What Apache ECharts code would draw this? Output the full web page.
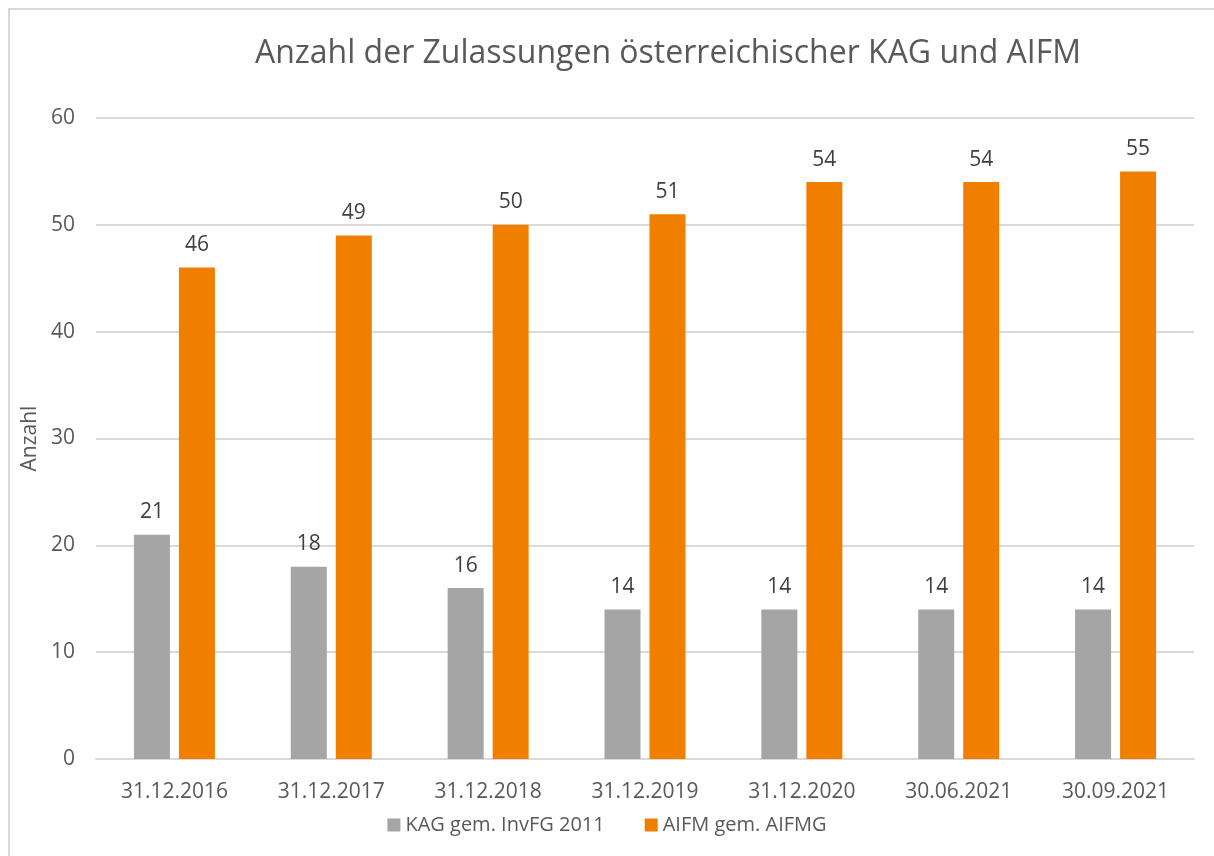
<!DOCTYPE html>
<html>
<head>
<meta charset="utf-8">
<script src="https://cdn.jsdelivr.net/npm/echarts@6/dist/echarts.min.js"></script>
<style>
  html, body {margin: 0; padding: 0; background: #fff;}
  #frame {position: absolute; left: 8px; top: 8px; width: 1206px; height: 848px;
    border-top: 2px solid #d9d9d9; border-left: 2px solid #d9d9d9; box-sizing: border-box;}
  #chart {position: absolute; left: 0; top: 0; width: 1214px; height: 856px;}
</style>
</head>
<body>
<div id="frame"></div>
<div id="chart"></div>
<script>
const categories = ["31.12.2016", "31.12.2017", "31.12.2018", "31.12.2019", "31.12.2020", "30.06.2021", "30.09.2021"]
const kagValues = [21, 18, 16, 14, 14, 14, 14]
const aifmValues = [46, 49, 50, 51, 54, 54, 55]
const seriesNames = ["KAG gem. InvFG 2011", "AIFM gem. AIFMG"]

const FONT = "'Open Sans', sans-serif"

const chart = echarts.init(document.getElementById("chart"), null, {renderer: "canvas"})

const labelStyle = {
  show: true,
  position: "top",
  distance: 12,
  color: "#404040",
  fontFamily: FONT,
  fontSize: 21,
}

chart.setOption({
  backgroundColor: "transparent",
  animation: false,
  title: {
    text: "Anzahl der Zulassungen österreichischer KAG und AIFM",
    left: 663,
    top: 33,
    textAlign: "center",
    textStyle: {color: "#595959", fontFamily: FONT, fontSize: 32, fontWeight: "normal"},
  },
  grid: {left: 96, right: 20, top: 118, bottom: 97},
  legend: {
    bottom: 16,
    left: "center",
    itemWidth: 13,
    itemHeight: 13,
    itemGap: 40,
    icon: "rect",
    textStyle: {color: "#595959", fontFamily: FONT, fontSize: 20},
    data: seriesNames,
  },
  xAxis: {
    type: "category",
    data: categories,
    axisLine: {lineStyle: {color: "#d9d9d9", width: 2}},
    axisTick: {show: false},
    axisLabel: {color: "#595959", fontFamily: FONT, fontSize: 21, margin: 23},
  },
  yAxis: {
    type: "value",
    min: 0,
    max: 60,
    interval: 10,
    name: "Anzahl",
    nameLocation: "middle",
    nameGap: 52,
    nameTextStyle: {color: "#595959", fontFamily: FONT, fontSize: 21},
    axisLine: {show: false},
    axisTick: {show: false},
    axisLabel: {color: "#595959", fontFamily: FONT, fontSize: 21, margin: 21},
    splitLine: {lineStyle: {color: "#d9d9d9", width: 2}},
  },
  series: [
    {
      name: seriesNames[0],
      type: "bar",
      data: kagValues,
      barWidth: 36,
      barGap: "25%",
      itemStyle: {color: "#a5a5a5"},
      label: labelStyle,
    },
    {
      name: seriesNames[1],
      type: "bar",
      data: aifmValues,
      barWidth: 36,
      itemStyle: {color: "#f07f00"},
      label: labelStyle,
    },
  ],
})
</script>
</body>
</html>
